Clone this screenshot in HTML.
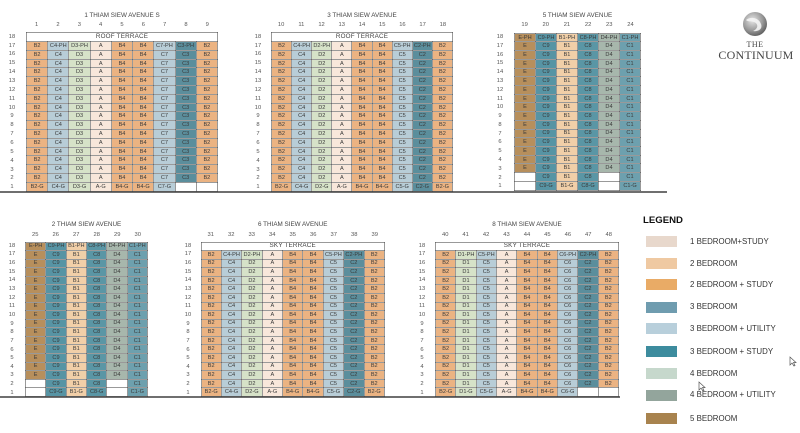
<!DOCTYPE html>
<html><head><meta charset="utf-8">
<style>
*{margin:0;padding:0;box-sizing:border-box}
body{width:800px;height:433px;background:#fff;position:relative;overflow:hidden;font-family:"Liberation Sans",Arial,sans-serif}
.blk{position:absolute}
table.g{width:100%;height:100%;border-collapse:collapse;table-layout:fixed;font-size:5.6px;color:#3b3b3b;text-align:center}
table.g td{border:1px solid rgba(70,70,70,.55);padding:0;line-height:6px;overflow:hidden;white-space:nowrap}
.n1 td:nth-child(1),.n1 td:nth-child(5),.n1 td:nth-child(6),.n1 td:nth-child(9){background:#ebb382}
.n1 td:nth-child(2),.n1 td:nth-child(7){background:#b8cdd7}
.n1 td:nth-child(3){background:#d6e2c8}
.n1 td:nth-child(4){background:#f8e7db}
.n1 td:nth-child(8){background:#5b8e9c}
.n3 td:nth-child(1),.n3 td:nth-child(5),.n3 td:nth-child(6),.n3 td:nth-child(9){background:#ebb382}
.n3 td:nth-child(3),.n3 td:nth-child(7){background:#b8cdd7}
.n3 td:nth-child(2){background:#d6e2c8}
.n3 td:nth-child(4){background:#f8e7db}
.n3 td:nth-child(8){background:#5b8e9c}
.s td:nth-child(1){background:#b78f5c}
.s td:nth-child(2){background:#5794a4}
.s td:nth-child(3){background:#f1cfa8}
.s td:nth-child(4){background:#5a96a5}
.s td:nth-child(5){background:#a7b7ac}
.s td:nth-child(6){background:#6da0ae}
table.g td.w{background:#fff}
table.g td.t{background:#fff;font-size:6.3px;color:#444;letter-spacing:.2px}
.rl{position:absolute;display:flex;flex-direction:column;font-size:5.8px;color:#555;width:16px}
.rl div{flex:1;display:flex;align-items:center;justify-content:center}
.cn{position:absolute;display:flex;font-size:5.8px;color:#555;height:8px;align-items:center}
.cn div{flex:1;text-align:center}
.ti{position:absolute;font-size:6.3px;color:#444;text-align:center;white-space:nowrap}
.ln{position:absolute;height:2px;background:#6f6f6f}
.lg{position:absolute;left:643px;font-size:7.9px;color:#333}
.sw{position:absolute;left:646px;width:31px;height:11px}
.lt{position:absolute;left:690px;font-size:7.9px;color:#333;white-space:nowrap;line-height:10px}
</style></head><body>

<!-- baselines -->
<div class="ln" style="left:0;top:190.8px;width:667px"></div>
<div class="ln" style="left:0;top:396.3px;width:620px"></div>

<!-- ========== T1 ========== -->
<div class="ti" style="left:26px;width:192px;top:12px">1 THIAM SIEW AVENUE S</div>
<div class="cn" style="left:26px;width:192px;top:21px"><div>1</div><div>2</div><div>3</div><div>4</div><div>5</div><div>6</div><div>7</div><div>8</div><div>9</div></div>
<div class="rl" style="left:4px;top:32.3px;height:159.5px"><div>18</div><div>17</div><div>16</div><div>15</div><div>14</div><div>13</div><div>12</div><div>11</div><div>10</div><div>9</div><div>8</div><div>7</div><div>6</div><div>5</div><div>4</div><div>3</div><div>2</div><div>1</div></div>
<div class="blk" style="left:26px;top:32.3px;width:192px;height:159.5px">
<table class="g n1">
<tr><td colspan="9" class="t">ROOF TERRACE</td></tr>
<tr><td>B2</td><td>C4-PH</td><td>D3-PH</td><td>A</td><td>B4</td><td>B4</td><td>C7-PH</td><td>C3-PH</td><td>B2</td></tr>
<tr><td>B2</td><td>C4</td><td>D3</td><td>A</td><td>B4</td><td>B4</td><td>C7</td><td>C3</td><td>B2</td></tr>
<tr><td>B2</td><td>C4</td><td>D3</td><td>A</td><td>B4</td><td>B4</td><td>C7</td><td>C3</td><td>B2</td></tr>
<tr><td>B2</td><td>C4</td><td>D3</td><td>A</td><td>B4</td><td>B4</td><td>C7</td><td>C3</td><td>B2</td></tr>
<tr><td>B2</td><td>C4</td><td>D3</td><td>A</td><td>B4</td><td>B4</td><td>C7</td><td>C3</td><td>B2</td></tr>
<tr><td>B2</td><td>C4</td><td>D3</td><td>A</td><td>B4</td><td>B4</td><td>C7</td><td>C3</td><td>B2</td></tr>
<tr><td>B2</td><td>C4</td><td>D3</td><td>A</td><td>B4</td><td>B4</td><td>C7</td><td>C3</td><td>B2</td></tr>
<tr><td>B2</td><td>C4</td><td>D3</td><td>A</td><td>B4</td><td>B4</td><td>C7</td><td>C3</td><td>B2</td></tr>
<tr><td>B2</td><td>C4</td><td>D3</td><td>A</td><td>B4</td><td>B4</td><td>C7</td><td>C3</td><td>B2</td></tr>
<tr><td>B2</td><td>C4</td><td>D3</td><td>A</td><td>B4</td><td>B4</td><td>C7</td><td>C3</td><td>B2</td></tr>
<tr><td>B2</td><td>C4</td><td>D3</td><td>A</td><td>B4</td><td>B4</td><td>C7</td><td>C3</td><td>B2</td></tr>
<tr><td>B2</td><td>C4</td><td>D3</td><td>A</td><td>B4</td><td>B4</td><td>C7</td><td>C3</td><td>B2</td></tr>
<tr><td>B2</td><td>C4</td><td>D3</td><td>A</td><td>B4</td><td>B4</td><td>C7</td><td>C3</td><td>B2</td></tr>
<tr><td>B2</td><td>C4</td><td>D3</td><td>A</td><td>B4</td><td>B4</td><td>C7</td><td>C3</td><td>B2</td></tr>
<tr><td>B2</td><td>C4</td><td>D3</td><td>A</td><td>B4</td><td>B4</td><td>C7</td><td>C3</td><td>B2</td></tr>
<tr><td>B2</td><td>C4</td><td>D3</td><td>A</td><td>B4</td><td>B4</td><td>C7</td><td>C3</td><td>B2</td></tr>
<tr><td>B2-G</td><td>C4-G</td><td>D3-G</td><td>A-G</td><td>B4-G</td><td>B4-G</td><td>C7-G</td><td class="w"></td><td class="w"></td></tr>
</table></div>

<!-- ========== T2 ========== -->
<div class="ti" style="left:271px;width:182px;top:12px">3 THIAM SIEW AVENUE</div>
<div class="cn" style="left:271px;width:182px;top:21px"><div>10</div><div>11</div><div>12</div><div>13</div><div>14</div><div>15</div><div>16</div><div>17</div><div>18</div></div>
<div class="rl" style="left:250px;top:32.3px;height:159.5px"><div>18</div><div>17</div><div>16</div><div>15</div><div>14</div><div>13</div><div>12</div><div>11</div><div>10</div><div>9</div><div>8</div><div>7</div><div>6</div><div>5</div><div>4</div><div>3</div><div>2</div><div>1</div></div>
<div class="blk" style="left:271px;top:32.3px;width:182px;height:159.5px">
<table class="g n1">
<tr><td colspan="9" class="t">ROOF TERRACE</td></tr>
<tr><td>B2</td><td>C4-PH</td><td>D2-PH</td><td>A</td><td>B4</td><td>B4</td><td>C5-PH</td><td>C2-PH</td><td>B2</td></tr>
<tr><td>B2</td><td>C4</td><td>D2</td><td>A</td><td>B4</td><td>B4</td><td>C5</td><td>C2</td><td>B2</td></tr>
<tr><td>B2</td><td>C4</td><td>D2</td><td>A</td><td>B4</td><td>B4</td><td>C5</td><td>C2</td><td>B2</td></tr>
<tr><td>B2</td><td>C4</td><td>D2</td><td>A</td><td>B4</td><td>B4</td><td>C5</td><td>C2</td><td>B2</td></tr>
<tr><td>B2</td><td>C4</td><td>D2</td><td>A</td><td>B4</td><td>B4</td><td>C5</td><td>C2</td><td>B2</td></tr>
<tr><td>B2</td><td>C4</td><td>D2</td><td>A</td><td>B4</td><td>B4</td><td>C5</td><td>C2</td><td>B2</td></tr>
<tr><td>B2</td><td>C4</td><td>D2</td><td>A</td><td>B4</td><td>B4</td><td>C5</td><td>C2</td><td>B2</td></tr>
<tr><td>B2</td><td>C4</td><td>D2</td><td>A</td><td>B4</td><td>B4</td><td>C5</td><td>C2</td><td>B2</td></tr>
<tr><td>B2</td><td>C4</td><td>D2</td><td>A</td><td>B4</td><td>B4</td><td>C5</td><td>C2</td><td>B2</td></tr>
<tr><td>B2</td><td>C4</td><td>D2</td><td>A</td><td>B4</td><td>B4</td><td>C5</td><td>C2</td><td>B2</td></tr>
<tr><td>B2</td><td>C4</td><td>D2</td><td>A</td><td>B4</td><td>B4</td><td>C5</td><td>C2</td><td>B2</td></tr>
<tr><td>B2</td><td>C4</td><td>D2</td><td>A</td><td>B4</td><td>B4</td><td>C5</td><td>C2</td><td>B2</td></tr>
<tr><td>B2</td><td>C4</td><td>D2</td><td>A</td><td>B4</td><td>B4</td><td>C5</td><td>C2</td><td>B2</td></tr>
<tr><td>B2</td><td>C4</td><td>D2</td><td>A</td><td>B4</td><td>B4</td><td>C5</td><td>C2</td><td>B2</td></tr>
<tr><td>B2</td><td>C4</td><td>D2</td><td>A</td><td>B4</td><td>B4</td><td>C5</td><td>C2</td><td>B2</td></tr>
<tr><td>B2</td><td>C4</td><td>D2</td><td>A</td><td>B4</td><td>B4</td><td>C5</td><td>C2</td><td>B2</td></tr>
<tr><td>B2-G</td><td>C4-G</td><td>D2-G</td><td>A-G</td><td>B4-G</td><td>B4-G</td><td>C5-G</td><td>C2-G</td><td>B2-G</td></tr>
</table></div>

<!-- ========== T3 ========== -->
<div class="ti" style="left:514px;width:127px;top:12px">5 THIAM SIEW AVENUE</div>
<div class="cn" style="left:514px;width:127px;top:21px"><div>19</div><div>20</div><div>21</div><div>22</div><div>23</div><div>24</div></div>
<div class="rl" style="left:492px;top:32.7px;height:158px"><div>18</div><div>17</div><div>16</div><div>15</div><div>14</div><div>13</div><div>12</div><div>11</div><div>10</div><div>9</div><div>8</div><div>7</div><div>6</div><div>5</div><div>4</div><div>3</div><div>2</div><div>1</div></div>
<div class="blk" style="left:514px;top:32.7px;width:127px;height:158px">
<table class="g s">
<tr><td>E-PH</td><td>C9-PH</td><td>B1-PH</td><td>C8-PH</td><td>D4-PH</td><td>C1-PH</td></tr>
<tr><td>E</td><td>C9</td><td>B1</td><td>C8</td><td>D4</td><td>C1</td></tr>
<tr><td>E</td><td>C9</td><td>B1</td><td>C8</td><td>D4</td><td>C1</td></tr>
<tr><td>E</td><td>C9</td><td>B1</td><td>C8</td><td>D4</td><td>C1</td></tr>
<tr><td>E</td><td>C9</td><td>B1</td><td>C8</td><td>D4</td><td>C1</td></tr>
<tr><td>E</td><td>C9</td><td>B1</td><td>C8</td><td>D4</td><td>C1</td></tr>
<tr><td>E</td><td>C9</td><td>B1</td><td>C8</td><td>D4</td><td>C1</td></tr>
<tr><td>E</td><td>C9</td><td>B1</td><td>C8</td><td>D4</td><td>C1</td></tr>
<tr><td>E</td><td>C9</td><td>B1</td><td>C8</td><td>D4</td><td>C1</td></tr>
<tr><td>E</td><td>C9</td><td>B1</td><td>C8</td><td>D4</td><td>C1</td></tr>
<tr><td>E</td><td>C9</td><td>B1</td><td>C8</td><td>D4</td><td>C1</td></tr>
<tr><td>E</td><td>C9</td><td>B1</td><td>C8</td><td>D4</td><td>C1</td></tr>
<tr><td>E</td><td>C9</td><td>B1</td><td>C8</td><td>D4</td><td>C1</td></tr>
<tr><td>E</td><td>C9</td><td>B1</td><td>C8</td><td>D4</td><td>C1</td></tr>
<tr><td>E</td><td>C9</td><td>B1</td><td>C8</td><td>D4</td><td>C1</td></tr>
<tr><td>E</td><td>C9</td><td>B1</td><td>C8</td><td>D4</td><td>C1</td></tr>
<tr><td class="w"></td><td>C9</td><td>B1</td><td>C8</td><td class="w"></td><td>C1</td></tr>
<tr><td class="w"></td><td>C9-G</td><td>B1-G</td><td>C8-G</td><td class="w"></td><td>C1-G</td></tr>
</table></div>

<!-- Logo -->
<svg style="position:absolute;left:741px;top:10px" width="28" height="28" viewBox="0 0 28 28">
<defs><radialGradient id="lgr" cx="0.4" cy="0.35" r="0.7"><stop offset="0" stop-color="#e6e6e6"/><stop offset="0.6" stop-color="#9a9a9a"/><stop offset="1" stop-color="#5a5a5a"/></radialGradient></defs>
<circle cx="14" cy="14" r="12" fill="url(#lgr)"/>
<path d="M5 10 C10 6,18 8,20 14 C22 19,17 22,12 21 C17 19,18 14,13 12 C10 11,7 12,5 10Z" fill="#f4f4f4" opacity="0.9"/>
</svg>
<div style="position:absolute;left:715px;width:80px;top:40px;text-align:center;font-family:'Liberation Serif',serif;font-size:8px;color:#444;letter-spacing:.5px">THE</div>
<div style="position:absolute;left:715px;width:82px;top:48px;text-align:center;font-family:'Liberation Serif',serif;font-size:12px;color:#444;letter-spacing:.2px">CONTINUUM</div>

<!-- ========== B1 ========== -->
<div class="ti" style="left:25px;width:123px;top:221px">2 THIAM SIEW AVENUE</div>
<div class="cn" style="left:25px;width:123px;top:230.5px"><div>25</div><div>26</div><div>27</div><div>28</div><div>29</div><div>30</div></div>
<div class="rl" style="left:4px;top:241.5px;height:155.5px"><div>18</div><div>17</div><div>16</div><div>15</div><div>14</div><div>13</div><div>12</div><div>11</div><div>10</div><div>9</div><div>8</div><div>7</div><div>6</div><div>5</div><div>4</div><div>3</div><div>2</div><div>1</div></div>
<div class="blk" style="left:25px;top:241.5px;width:123px;height:155.5px">
<table class="g s">
<tr><td>E-PH</td><td>C9-PH</td><td>B1-PH</td><td>C8-PH</td><td>D4-PH</td><td>C1-PH</td></tr>
<tr><td>E</td><td>C9</td><td>B1</td><td>C8</td><td>D4</td><td>C1</td></tr>
<tr><td>E</td><td>C9</td><td>B1</td><td>C8</td><td>D4</td><td>C1</td></tr>
<tr><td>E</td><td>C9</td><td>B1</td><td>C8</td><td>D4</td><td>C1</td></tr>
<tr><td>E</td><td>C9</td><td>B1</td><td>C8</td><td>D4</td><td>C1</td></tr>
<tr><td>E</td><td>C9</td><td>B1</td><td>C8</td><td>D4</td><td>C1</td></tr>
<tr><td>E</td><td>C9</td><td>B1</td><td>C8</td><td>D4</td><td>C1</td></tr>
<tr><td>E</td><td>C9</td><td>B1</td><td>C8</td><td>D4</td><td>C1</td></tr>
<tr><td>E</td><td>C9</td><td>B1</td><td>C8</td><td>D4</td><td>C1</td></tr>
<tr><td>E</td><td>C9</td><td>B1</td><td>C8</td><td>D4</td><td>C1</td></tr>
<tr><td>E</td><td>C9</td><td>B1</td><td>C8</td><td>D4</td><td>C1</td></tr>
<tr><td>E</td><td>C9</td><td>B1</td><td>C8</td><td>D4</td><td>C1</td></tr>
<tr><td>E</td><td>C9</td><td>B1</td><td>C8</td><td>D4</td><td>C1</td></tr>
<tr><td>E</td><td>C9</td><td>B1</td><td>C8</td><td>D4</td><td>C1</td></tr>
<tr><td>E</td><td>C9</td><td>B1</td><td>C8</td><td>D4</td><td>C1</td></tr>
<tr><td>E</td><td>C9</td><td>B1</td><td>C8</td><td>D4</td><td>C1</td></tr>
<tr><td class="w"></td><td>C9</td><td>B1</td><td>C8</td><td class="w"></td><td>C1</td></tr>
<tr><td class="w"></td><td>C9-G</td><td>B1-G</td><td>C8-G</td><td class="w"></td><td>C1-G</td></tr>
</table></div>

<!-- ========== B2 ========== -->
<div class="ti" style="left:200.5px;width:184.5px;top:221px">6 THIAM SIEW AVENUE</div>
<div class="cn" style="left:200.5px;width:184.5px;top:230.5px"><div>31</div><div>32</div><div>33</div><div>34</div><div>35</div><div>36</div><div>37</div><div>38</div><div>39</div></div>
<div class="rl" style="left:180px;top:241.5px;height:155.5px"><div>18</div><div>17</div><div>16</div><div>15</div><div>14</div><div>13</div><div>12</div><div>11</div><div>10</div><div>9</div><div>8</div><div>7</div><div>6</div><div>5</div><div>4</div><div>3</div><div>2</div><div>1</div></div>
<div class="blk" style="left:200.5px;top:241.5px;width:184.5px;height:155.5px">
<table class="g n1">
<tr><td colspan="9" class="t">SKY TERRACE</td></tr>
<tr><td>B2</td><td>C4-PH</td><td>D2-PH</td><td>A</td><td>B4</td><td>B4</td><td>C5-PH</td><td>C2-PH</td><td>B2</td></tr>
<tr><td>B2</td><td>C4</td><td>D2</td><td>A</td><td>B4</td><td>B4</td><td>C5</td><td>C2</td><td>B2</td></tr>
<tr><td>B2</td><td>C4</td><td>D2</td><td>A</td><td>B4</td><td>B4</td><td>C5</td><td>C2</td><td>B2</td></tr>
<tr><td>B2</td><td>C4</td><td>D2</td><td>A</td><td>B4</td><td>B4</td><td>C5</td><td>C2</td><td>B2</td></tr>
<tr><td>B2</td><td>C4</td><td>D2</td><td>A</td><td>B4</td><td>B4</td><td>C5</td><td>C2</td><td>B2</td></tr>
<tr><td>B2</td><td>C4</td><td>D2</td><td>A</td><td>B4</td><td>B4</td><td>C5</td><td>C2</td><td>B2</td></tr>
<tr><td>B2</td><td>C4</td><td>D2</td><td>A</td><td>B4</td><td>B4</td><td>C5</td><td>C2</td><td>B2</td></tr>
<tr><td>B2</td><td>C4</td><td>D2</td><td>A</td><td>B4</td><td>B4</td><td>C5</td><td>C2</td><td>B2</td></tr>
<tr><td>B2</td><td>C4</td><td>D2</td><td>A</td><td>B4</td><td>B4</td><td>C5</td><td>C2</td><td>B2</td></tr>
<tr><td>B2</td><td>C4</td><td>D2</td><td>A</td><td>B4</td><td>B4</td><td>C5</td><td>C2</td><td>B2</td></tr>
<tr><td>B2</td><td>C4</td><td>D2</td><td>A</td><td>B4</td><td>B4</td><td>C5</td><td>C2</td><td>B2</td></tr>
<tr><td>B2</td><td>C4</td><td>D2</td><td>A</td><td>B4</td><td>B4</td><td>C5</td><td>C2</td><td>B2</td></tr>
<tr><td>B2</td><td>C4</td><td>D2</td><td>A</td><td>B4</td><td>B4</td><td>C5</td><td>C2</td><td>B2</td></tr>
<tr><td>B2</td><td>C4</td><td>D2</td><td>A</td><td>B4</td><td>B4</td><td>C5</td><td>C2</td><td>B2</td></tr>
<tr><td>B2</td><td>C4</td><td>D2</td><td>A</td><td>B4</td><td>B4</td><td>C5</td><td>C2</td><td>B2</td></tr>
<tr><td>B2</td><td>C4</td><td>D2</td><td>A</td><td>B4</td><td>B4</td><td>C5</td><td>C2</td><td>B2</td></tr>
<tr><td>B2-G</td><td>C4-G</td><td>D2-G</td><td>A-G</td><td>B4-G</td><td>B4-G</td><td>C5-G</td><td>C2-G</td><td>B2-G</td></tr>
</table></div>

<!-- ========== B3 ========== -->
<div class="ti" style="left:435px;width:184px;top:221px">8 THIAM SIEW AVENUE</div>
<div class="cn" style="left:435px;width:184px;top:230.5px"><div>40</div><div>41</div><div>42</div><div>43</div><div>44</div><div>45</div><div>46</div><div>47</div><div>48</div></div>
<div class="rl" style="left:414px;top:241.5px;height:155.5px"><div>18</div><div>17</div><div>16</div><div>15</div><div>14</div><div>13</div><div>12</div><div>11</div><div>10</div><div>9</div><div>8</div><div>7</div><div>6</div><div>5</div><div>4</div><div>3</div><div>2</div><div>1</div></div>
<div class="blk" style="left:435px;top:241.5px;width:184px;height:155.5px">
<table class="g n3">
<tr><td colspan="9" class="t">SKY TERRACE</td></tr>
<tr><td>B2</td><td>D1-PH</td><td>C5-PH</td><td>A</td><td>B4</td><td>B4</td><td>C6-PH</td><td>C2-PH</td><td>B2</td></tr>
<tr><td>B2</td><td>D1</td><td>C5</td><td>A</td><td>B4</td><td>B4</td><td>C6</td><td>C2</td><td>B2</td></tr>
<tr><td>B2</td><td>D1</td><td>C5</td><td>A</td><td>B4</td><td>B4</td><td>C6</td><td>C2</td><td>B2</td></tr>
<tr><td>B2</td><td>D1</td><td>C5</td><td>A</td><td>B4</td><td>B4</td><td>C6</td><td>C2</td><td>B2</td></tr>
<tr><td>B2</td><td>D1</td><td>C5</td><td>A</td><td>B4</td><td>B4</td><td>C6</td><td>C2</td><td>B2</td></tr>
<tr><td>B2</td><td>D1</td><td>C5</td><td>A</td><td>B4</td><td>B4</td><td>C6</td><td>C2</td><td>B2</td></tr>
<tr><td>B2</td><td>D1</td><td>C5</td><td>A</td><td>B4</td><td>B4</td><td>C6</td><td>C2</td><td>B2</td></tr>
<tr><td>B2</td><td>D1</td><td>C5</td><td>A</td><td>B4</td><td>B4</td><td>C6</td><td>C2</td><td>B2</td></tr>
<tr><td>B2</td><td>D1</td><td>C5</td><td>A</td><td>B4</td><td>B4</td><td>C6</td><td>C2</td><td>B2</td></tr>
<tr><td>B2</td><td>D1</td><td>C5</td><td>A</td><td>B4</td><td>B4</td><td>C6</td><td>C2</td><td>B2</td></tr>
<tr><td>B2</td><td>D1</td><td>C5</td><td>A</td><td>B4</td><td>B4</td><td>C6</td><td>C2</td><td>B2</td></tr>
<tr><td>B2</td><td>D1</td><td>C5</td><td>A</td><td>B4</td><td>B4</td><td>C6</td><td>C2</td><td>B2</td></tr>
<tr><td>B2</td><td>D1</td><td>C5</td><td>A</td><td>B4</td><td>B4</td><td>C6</td><td>C2</td><td>B2</td></tr>
<tr><td>B2</td><td>D1</td><td>C5</td><td>A</td><td>B4</td><td>B4</td><td>C6</td><td>C2</td><td>B2</td></tr>
<tr><td>B2</td><td>D1</td><td>C5</td><td>A</td><td>B4</td><td>B4</td><td>C6</td><td>C2</td><td>B2</td></tr>
<tr><td>B2</td><td>D1</td><td>C5</td><td>A</td><td>B4</td><td>B4</td><td>C6</td><td>C2</td><td>B2</td></tr>
<tr><td>B2-G</td><td>D1-G</td><td>C5-G</td><td>A-G</td><td>B4-G</td><td>B4-G</td><td>C6-G</td><td class="w"></td><td class="w"></td></tr>
</table></div>

<!-- ========== LEGEND ========== -->
<div class="lg" style="top:215px;font-weight:bold;font-size:9.6px;color:#111">LEGEND</div>
<div class="sw" style="top:236px;background:#e8d8cc"></div><div class="lt" style="top:236.5px">1 BEDROOM+STUDY</div>
<div class="sw" style="top:258px;background:#efc9a2"></div><div class="lt" style="top:258.5px">2 BEDROOM</div>
<div class="sw" style="top:279px;background:#e9ab66"></div><div class="lt" style="top:279.5px">2 BEDROOM + STUDY</div>
<div class="sw" style="top:301.5px;background:#6f9caf"></div><div class="lt" style="top:302px">3 BEDROOM</div>
<div class="sw" style="top:323px;background:#b8cfdb"></div><div class="lt" style="top:323.5px">3 BEDROOM + UTILITY</div>
<div class="sw" style="top:346px;background:#3d8c9e"></div><div class="lt" style="top:346.5px">3 BEDROOM + STUDY</div>
<div class="sw" style="top:368px;background:#c6d8cc"></div><div class="lt" style="top:368.5px">4 BEDROOM</div>
<div class="sw" style="top:389.5px;background:#93a59c"></div><div class="lt" style="top:390px">4 BEDROOM + UTILITY</div>
<div class="sw" style="top:413px;background:#a8834e"></div><div class="lt" style="top:413.5px">5 BEDROOM</div>

<!-- cursors -->
<svg style="position:absolute;left:789px;top:356px" width="8" height="11" viewBox="0 0 8 11"><path d="M1 1 L1 9 L3 7 L5 10 L6 9.5 L4.5 6.5 L7 6.5 Z" fill="#fff" stroke="#555" stroke-width="0.7"/></svg>
<svg style="position:absolute;left:698px;top:381px" width="8" height="11" viewBox="0 0 8 11"><path d="M1 1 L1 9 L3 7 L5 10 L6 9.5 L4.5 6.5 L7 6.5 Z" fill="#fff" stroke="#555" stroke-width="0.7"/></svg>

</body></html>
